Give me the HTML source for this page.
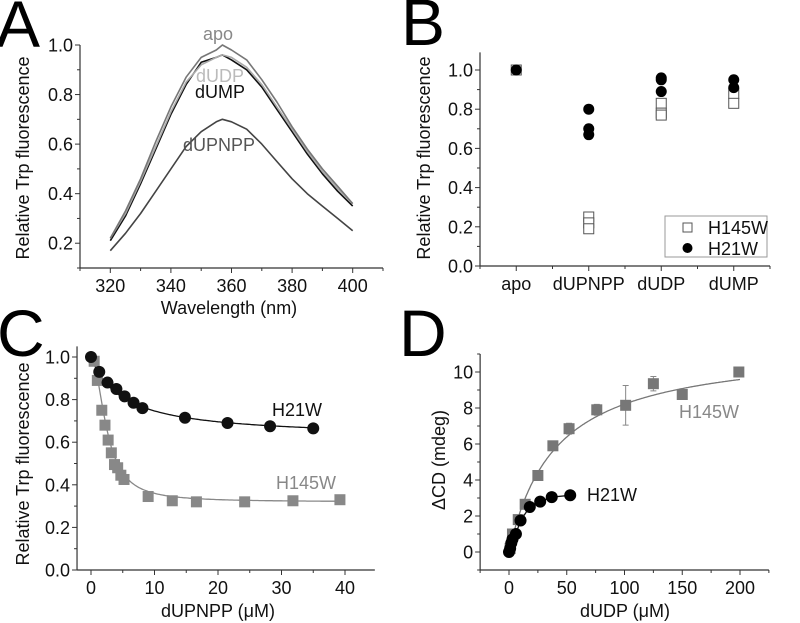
<!DOCTYPE html>
<html><head><meta charset="utf-8"><style>
html,body{margin:0;padding:0;background:#fff;}
svg{display:block;font-family:"Liberation Sans",Arial,sans-serif;}
svg text{font-family:"Liberation Sans",Arial,sans-serif;}
</style></head><body>
<svg id="fig" width="800" height="623" viewBox="0 0 800 623">
<text x="-4" y="47" font-size="66" font-family="Liberation Sans">A</text>
<text x="401" y="45" font-size="66" font-family="Liberation Sans">B</text>
<text x="-3" y="356" font-size="66" font-family="Liberation Sans">C</text>
<text x="399" y="356" font-size="66" font-family="Liberation Sans">D</text>
</svg>
<script>
// ---------- Panel A data ----------
const aWave = [320,325,330,335,340,345,350,355,357,360,365,370,375,380,385,390,395,400];
const aApo  = [0.22,0.33,0.46,0.61,0.75,0.87,0.95,0.98,1.0,0.98,0.94,0.86,0.77,0.67,0.58,0.50,0.43,0.36];
const aDUDP = [0.22,0.32,0.45,0.59,0.73,0.85,0.92,0.95,0.96,0.95,0.91,0.84,0.75,0.66,0.57,0.49,0.42,0.36];
const aDUMP = [0.21,0.31,0.44,0.58,0.72,0.84,0.93,0.95,0.96,0.94,0.90,0.83,0.74,0.65,0.56,0.48,0.41,0.35];
const aDUPNPP=[0.17,0.24,0.32,0.41,0.50,0.59,0.65,0.69,0.70,0.69,0.66,0.60,0.53,0.46,0.40,0.35,0.30,0.25];
const aXTicks = [320,340,360,380,400];
const aYTicks = [0.2,0.4,0.6,0.8,1.0];
// ---------- Panel B data ----------
const bCats = ["apo","dUPNPP","dUDP","dUMP"];
const bH145W = [[1.0],[0.25,0.22,0.19],[0.83,0.78,0.77],[0.88,0.83]];
const bH21W  = [[1.0],[0.80,0.70,0.67],[0.96,0.95,0.89],[0.95,0.91]];
const bYTicks = [0.0,0.2,0.4,0.6,0.8,1.0];
// ---------- Panel C data ----------
const cH21Wx = [0,1.3,2.6,4.0,5.3,6.7,8.1,14.8,21.5,28.2,35];
const cH21Wy = [1.0,0.93,0.88,0.85,0.815,0.785,0.76,0.715,0.69,0.675,0.665];
const cH145Wx = [0.5,1.0,1.7,2.2,2.7,3.2,3.7,4.2,4.7,5.2,9,12.8,16.6,24.2,31.8,39.2];
const cH145Wy = [0.98,0.89,0.75,0.68,0.61,0.55,0.495,0.48,0.445,0.425,0.345,0.325,0.32,0.32,0.325,0.33];
const cXTicks = [0,10,20,30,40];
const cYTicks = [0.0,0.2,0.4,0.6,0.8,1.0];
// ---------- Panel D data ----------
const dH145Wx = [1,3,8,14,25,38,52,76,101,125,150,199];
const dH145Wy = [0.2,1.0,1.8,2.65,4.25,5.9,6.85,7.9,8.15,9.35,8.75,10.0];
const dH145We = [0,0,0,0,0,0,0.3,0.3,1.1,0.4,0,0];
const dH21Wx = [0,1,2,3,6,10,18,27,37,53];
const dH21Wy = [0,0.2,0.5,0.7,1.0,1.75,2.5,2.8,3.05,3.15];
const dXTicks = [0,50,100,150,200];
const dYTicks = [0,2,4,6,8,10];

const NS="http://www.w3.org/2000/svg";
const svg=document.getElementById('fig');
const FF='Liberation Sans';
function mk(tag,attrs,parent){const e=document.createElementNS(NS,tag);for(const k in attrs)e.setAttribute(k,attrs[k]);(parent||svg).appendChild(e);return e;}
function lin(d0,d1,r0,r1){return v=>r0+(v-d0)*(r1-r0)/(d1-d0);}
function fmt(v,dec){return v.toFixed(dec);}

function axes(g,x,y,xr,yr,xt,yt,dec,xminor,yminor,xlabels){
  let l=mk('line',{x1:x(xr[0]),y1:y(yr[0]),x2:x(xr[0]),y2:y(yr[1]),stroke:'#333','stroke-width':1.2},g);
  
  
  l=mk('line',{x1:x(xr[0]),y1:y(yr[0]),x2:x(xr[1]),y2:y(yr[0]),stroke:'#333','stroke-width':1.2},g);
  
  
  yt.forEach(v=>{
    mk('line',{x1:x(xr[0])-5,y1:y(v),x2:x(xr[0]),y2:y(v),stroke:'#333'},g);
    const t=mk('text',{x:x(xr[0])-7,y:y(v)+6.5,'font-size':18,'font-family':FF,'text-anchor':'end',fill:'#111'},g);
    t.textContent=fmt(v,dec);
    
    
  });
  yminor.forEach(v=>mk('line',{x1:x(xr[0])-3,y1:y(v),x2:x(xr[0]),y2:y(v),stroke:'#333'},g));
  xt.forEach((v,i)=>{
    mk('line',{x1:x(v),y1:y(yr[0]),x2:x(v),y2:y(yr[0])+5,stroke:'#333'},g);
    const t=mk('text',{x:x(v),y:y(yr[0])+24,'font-size':18,'font-family':FF,'text-anchor':'middle',fill:'#111'},g);
    t.textContent=xlabels?xlabels[i]:v;
    
    
  });
  xminor.forEach(v=>mk('line',{x1:x(v),y1:y(yr[0]),x2:x(v),y2:y(yr[0])+3,stroke:'#333'},g));
}
function title(g,txt,x,y,rot,name){
  const t=mk('text',{x:x,y:y,'font-size':18,'font-family':FF,'text-anchor':'middle',fill:'#111',transform:rot?`rotate(-90 ${x} ${y})`:''},g);
  t.textContent=txt;
  
  
}
function label(g,txt,x,y,fill,name){
  const t=mk('text',{x:x,y:y,'font-size':18,'font-family':FF,fill:fill},g);
  t.textContent=txt;
  
  
}
function pathFrom(xs,ys,x,y){return xs.map((v,i)=>(i?'L':'M')+x(v).toFixed(1)+' '+y(ys[i]).toFixed(1)).join(' ');}

// ===== Panel A =====
{
const g=mk('g',{});
const x=lin(310,410,80,383), y=lin(0.1,1.0,268,45);
axes(g,x,y,[310,410],[0.1,1.0],aXTicks,aYTicks,1,[310,330,350,370,390,410],[0.1,0.3,0.5,0.7,0.9]);
title(g,'Relative Trp fluorescence',29,158,true,'y-axis-title');
title(g,'Wavelength (nm)',229,314,false,'x-axis-title');
[[aDUPNPP,'#444','curve-dupnpp'],[aDUMP,'#111','curve-dump'],[aDUDP,'#aaa','curve-dudp'],[aApo,'#777','curve-apo']].forEach(([d,c,n])=>{
  const p=mk('path',{d:pathFrom(aWave,d,x,y),fill:'none',stroke:c,'stroke-width':1.6,'stroke-linejoin':'round'},g);
  
  
});
label(g,'apo',203,40,'#888','label-apo');
label(g,'dUDP',196,82,'#bbb','label-dudp');
label(g,'dUMP',195,98,'#111','label-dump');
label(g,'dUPNPP',183,151,'#555','label-dupnpp');
}
// ===== Panel B =====
{
const g=mk('g',{});
const x=lin(-0.5,3.5,480,770), y=lin(0,1.0,266,70);
axes(g,x,y,[-0.5,3.5],[0,1.09],[0,1,2,3],bYTicks,1,[-0.5,0.5,1.5,2.5,3.5],[0.1,0.3,0.5,0.7,0.9],bCats);
title(g,'Relative Trp fluorescence',430,158,true,'y-axis-title');
bH145W.forEach((arr,i)=>arr.forEach(v=>{
  const r=mk('rect',{x:x(i)-5,y:y(v)-5,width:10,height:10,fill:'#fff',stroke:'#555','stroke-width':1},g);
  
  
}));
bH21W.forEach((arr,i)=>arr.forEach(v=>{
  const c=mk('circle',{cx:x(i),cy:y(v),r:5.5,fill:'#000'},g);
  
  
}));
const lg=mk('g',{},g);
mk('rect',{x:665,y:216,width:102,height:41,fill:'#fff',stroke:'#999'},lg);
mk('rect',{x:683,y:223,width:9,height:9,fill:'#fff',stroke:'#555'},lg);
mk('circle',{cx:687.5,cy:248,r:5,fill:'#000'},lg);
label(lg,'H145W',708,234,'#111','legend-entry-h145w');
label(lg,'H21W',708,255,'#111','legend-entry-h21w');
}
// ===== Panel C =====
{
const g=mk('g',{});
const x=lin(0,40,91,345), y=lin(0,1.0,570,357);
axes(g,x,y,[-2.2,44.7],[0,1.05],cXTicks,cYTicks,1,[5,15,25,35],[0.1,0.3,0.5,0.7,0.9]);
title(g,'Relative Trp fluorescence',29,464,true,'y-axis-title');
title(g,'dUPNPP (\u03BCM)',218,617,false,'x-axis-title');
const fx=[];for(let v=0;v<=39.3;v+=0.25)fx.push(v);
const f21=fx.filter(v=>v<=35).map(v=>1-0.38*v/(5+v));
const f145=fx.map(v=>1-0.68*v*v/(6.25+v*v));
let p=mk('path',{d:pathFrom(fx,f145,x,y),fill:'none',stroke:'#888','stroke-width':1.3},g);

p=mk('path',{d:pathFrom(fx.filter(v=>v<=35),f21,x,y),fill:'none',stroke:'#111','stroke-width':1.3},g);

cH145Wx.forEach((v,i)=>{
  const r=mk('rect',{x:x(v)-5.5,y:y(cH145Wy[i])-5.5,width:11,height:11,fill:'#888'},g);
  
  
});
cH21Wx.forEach((v,i)=>{
  const c=mk('circle',{cx:x(v),cy:y(cH21Wy[i]),r:6,fill:'#111'},g);
  
  
});
label(g,'H21W',272,416,'#111','label-h21w');
label(g,'H145W',276,489,'#888','label-h145w');
}
// ===== Panel D =====
{
const g=mk('g',{});
const x=lin(0,200,509,740), y=lin(0,10,552,372);
axes(g,x,y,[-25,225],[-1,11],dXTicks,dYTicks,0,[-25,25,75,125,175,225],[-1,1,3,5,7,9,11]);
title(g,'\u0394CD (mdeg)',445,460,true,'y-axis-title');
title(g,'dUDP (\u03BCM)',625,617,false,'x-axis-title');
const fx=[];for(let v=0;v<=200;v+=1)fx.push(v);
const f145=fx.map(v=>11.5*v/(40+v));
let p=mk('path',{d:pathFrom(fx,f145,x,y),fill:'none',stroke:'#777','stroke-width':1.3},g);

p=mk('path',{d:pathFrom(dH21Wx,dH21Wy,x,y),fill:'none',stroke:'#111','stroke-width':1.3},g);

dH145Wx.forEach((v,i)=>{
  if(dH145We[i]>0){
    const e=mk('path',{d:`M${x(v)} ${y(dH145Wy[i]-dH145We[i])} V${y(dH145Wy[i]+dH145We[i])} M${x(v)-3} ${y(dH145Wy[i]-dH145We[i])} h6 M${x(v)-3} ${y(dH145Wy[i]+dH145We[i])} h6`,stroke:'#888',fill:'none'},g);
    
    
  }
  const r=mk('rect',{x:x(v)-5.5,y:y(dH145Wy[i])-5.5,width:11,height:11,fill:'#777'},g);
  
  
});
dH21Wx.forEach((v,i)=>{
  const c=mk('circle',{cx:x(v),cy:y(dH21Wy[i]),r:6,fill:'#000'},g);
  
  
});
label(g,'H21W',587,501,'#111','label-h21w');
label(g,'H145W',679,418,'#888','label-h145w');
}
</script>
</body></html>
